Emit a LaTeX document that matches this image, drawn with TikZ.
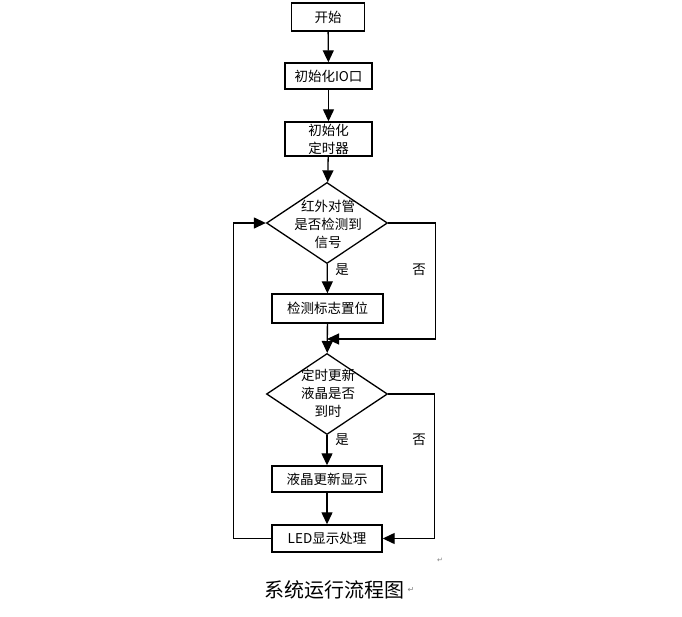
\documentclass[tikz,border=0pt]{standalone}
\usepackage{fontspec}
\setmainfont{Noto Sans CJK SC}
\newfontfamily\symfont{DejaVu Sans}
\usetikzlibrary{shapes.geometric,arrows.meta}

\tikzset{
  box/.style={draw,line width=1.4pt,minimum height=#1,inner sep=0pt,align=center},
  box/.default=27pt,
  test/.style={draw,diamond,line width=1.3pt,minimum width=121pt,minimum height=81pt,inner sep=0pt},
  testtext/.style={align=center,inner sep=0pt,font=\fontsize{13.5}{18}\selectfont},
  arr/.style={line width=1.3pt,-{Triangle[length=12pt,width=11pt]}},
  lbl/.style={font=\fontsize{13.5}{16}\selectfont}
}

\begin{document}
\begin{tikzpicture}[x=1pt,y=-1pt,font=\fontsize{13.5}{18}\selectfont]
\useasboundingbox (0,0) rectangle (682,616);

\node[box=28pt,minimum width=73pt] (start) at (328,17) {开始};
\node[box=26pt,minimum width=87pt] (io) at (328.5,76) {初始化IO口};
\node[box=34pt,minimum width=87pt] (timer) at (328.5,139) {初始化\\定时器};
\node[test] (ir) at (327,223) {};
\node[testtext] (irtext) at (328,224) {红外对管\\是否检测到\\信号};
\node[box=29pt,minimum width=111pt] (flag) at (327.5,308.5) {检测标志置位};
\coordinate (join) at (327,339);
\node[test] (upd) at (327,394) {};
\node[testtext] (updtext) at (328,393) {定时更新\\液晶是否\\到时};
\node[box=26pt,minimum width=110pt] (lcd) at (327,479) {液晶更新显示};
\node[box=27pt,minimum width=110pt] (led) at (327,538.5) {LED显示处理};

\draw[arr] (start) -- (io);
\draw[arr] (io) -- (timer);
\draw[arr] (timer) -- (ir);
\draw[arr] (ir) -- (flag);
\draw[arr] (flag) -- (upd);
\draw[arr] (ir.east) -- ++(47,0) |- (join);
\draw[arr] (upd) -- (lcd);
\draw[arr] (lcd) -- (led);
\draw[arr] (upd.east) -- ++(46,0) |- (led.east);
\draw[arr] (led.west) -- ++(-38,0) |- (ir.west);

\node[lbl] (yes1) at (342,270) {是};
\node[lbl] (no1) at (419,270) {否};
\node[lbl] (yes2) at (342,440) {是};
\node[lbl] (no2) at (419,440) {否};

\node[font=\fontsize{20}{22}\selectfont] (cap) at (334,590) {系统运行流程图};
\node[anchor=west,text=gray,inner sep=0pt,font=\symfont\fontsize{8}{8}\selectfont] (ret1) at (cap.east) {↵};
\node[text=gray,inner sep=0pt,font=\symfont\fontsize{7}{7}\selectfont] (ret2) at (440,560) {↵};
\end{tikzpicture}
\end{document}
